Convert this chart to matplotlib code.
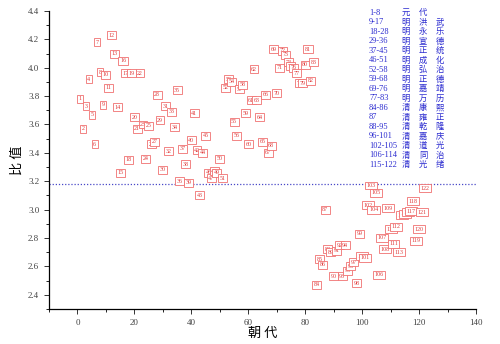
import matplotlib
matplotlib.use("Agg")
import matplotlib.pyplot as plt
from matplotlib.ticker import MultipleLocator

# ---- data ----
ids = list(range(1, 123))
ratio = [
    3.78, 3.57, 3.73, 3.92, 3.67, 3.46, 4.18, 3.97, 3.74, 3.95,   # 1-10
    3.86, 4.23, 4.10, 3.72, 3.26, 4.05, 3.96, 3.35, 3.96, 3.65,   # 11-20
    3.57, 3.96, 3.60, 3.36, 3.59, 3.46, 3.48, 3.81, 3.63, 3.28,   # 21-30
    3.73, 3.41, 3.69, 3.58, 3.84, 3.20, 3.43, 3.32, 3.19, 3.49,   # 31-40
    3.68, 3.42, 3.10, 3.40, 3.52, 3.26, 3.22, 3.27, 3.26, 3.36,   # 41-50
    3.22, 3.86, 3.92, 3.90, 3.62, 3.52, 3.85, 3.88, 3.68, 3.46,   # 51-60
    3.77, 3.99, 3.77, 3.65, 3.48, 3.81, 3.40, 3.45, 4.13, 3.82,   # 61-70
    4.00, 4.12, 4.09, 4.04, 4.01, 4.00, 3.96, 3.89, 3.89, 4.02,   # 71-80
    4.13, 3.91, 4.04, 2.47, 2.65, 2.61, 3.00, 2.72, 2.70, 2.53,   # 81-90
    2.71, 2.75, 2.53, 2.75, 2.57, 2.60, 2.63, 2.48, 2.83, 2.67,   # 91-100
    2.66, 3.03, 3.17, 3.00, 3.12, 2.54, 2.80, 2.72, 3.01, 2.86,   # 101-110
    2.76, 2.88, 2.70, 2.96, 2.97, 2.98, 2.99, 3.06, 2.78, 2.86,   # 111-120
    2.98, 3.15,                                                    # 121-122
]
mean_ratio = 3.18

legend_ranges = ["1-8", "9-17", "18-28", "29-36", "37-45", "46-51", "52-58",
                 "59-68", "69-76", "77-83", "84-86", "87", "88-95", "96-101",
                 "102-105", "106-114", "115-122"]
legend_dynasty = ["元", "明", "明", "明", "明", "明", "明", "明", "明", "明",
                  "清", "清", "清", "清", "清", "清", "清"]
legend_reign = ["代", "洪 武", "永 乐", "宣 德", "正 统", "成 化", "弘 治", "正 德",
                "嘉 靖", "万 历", "康 熙", "雍 正", "乾 隆", "嘉 庆", "道 光",
                "同 治", "光 绪"]

xticks = [0, 20, 40, 60, 80, 100, 120, 140]
yticks = [2.4, 2.6, 2.8, 3.0, 3.2, 3.4, 3.6, 3.8, 4.0, 4.2, 4.4]

# ---- figure ----
cjk = ["Noto Sans CJK SC", "DejaVu Sans"]
serif = ["Liberation Serif", "DejaVu Serif"]

fig = plt.figure(figsize=(5.0, 3.44), dpi=100)
ax = fig.add_axes([0.098, 0.102, 0.854, 0.866])
ax.set_xlim(-10, 140)
ax.set_ylim(2.3, 4.4)

for sp in ("top", "right"):
    ax.spines[sp].set_visible(False)
for sp in ("left", "bottom"):
    ax.spines[sp].set_linewidth(0.9)

ax.set_xticks(xticks)
ax.set_yticks(yticks)
ax.set_yticklabels([f"{v:.1f}" for v in yticks])
ax.xaxis.set_minor_locator(MultipleLocator(10))
ax.yaxis.set_minor_locator(MultipleLocator(0.1))
ax.tick_params(which="major", direction="out", length=3.5, width=0.7,
               labelsize=6.5, colors="#333333")
ax.tick_params(which="minor", direction="out", length=2, width=0.6)
for lab in ax.get_xticklabels() + ax.get_yticklabels():
    lab.set_family(serif)
    lab.set_color("#444444")

ax.set_xlabel("朝 代", family=cjk, fontsize=9.5, labelpad=0)
ax.set_ylabel("比 值", family=cjk, fontsize=9.5, labelpad=3)

# mean line
ax.axhline(mean_ratio, color="#4848c8", linestyle=(0, (1, 1.5)), linewidth=0.9)

# point labels
for n, v in zip(ids, ratio):
    ax.text(n, v, str(n), ha="center", va="center", fontsize=4.3,
            family=serif, color="#e03a3a",
            bbox=dict(boxstyle="square,pad=0.25", facecolor="white",
                      edgecolor="#f07070", linewidth=0.6))

# legend text (top right)
y0 = 1 - 12.7 / 344
dy = 9.5 / 344
for i, (r, d, g) in enumerate(zip(legend_ranges, legend_dynasty, legend_reign)):
    y = y0 - i * dy
    fig.text(369 / 500, y, r, ha="left", va="center", fontsize=6,
             family=serif, color="#2c2cd0")
    fig.text(406 / 500, y, d, ha="center", va="center", fontsize=6,
             family=cjk, color="#2c2cd0")
    parts = g.split(" ")
    for j, ch in enumerate(parts):
        xx = 423 if j == 0 else 440
        fig.text(xx / 500, y, ch, ha="center", va="center", fontsize=6,
                 family=cjk, color="#2c2cd0")

fig.savefig("out.png", dpi=100)
